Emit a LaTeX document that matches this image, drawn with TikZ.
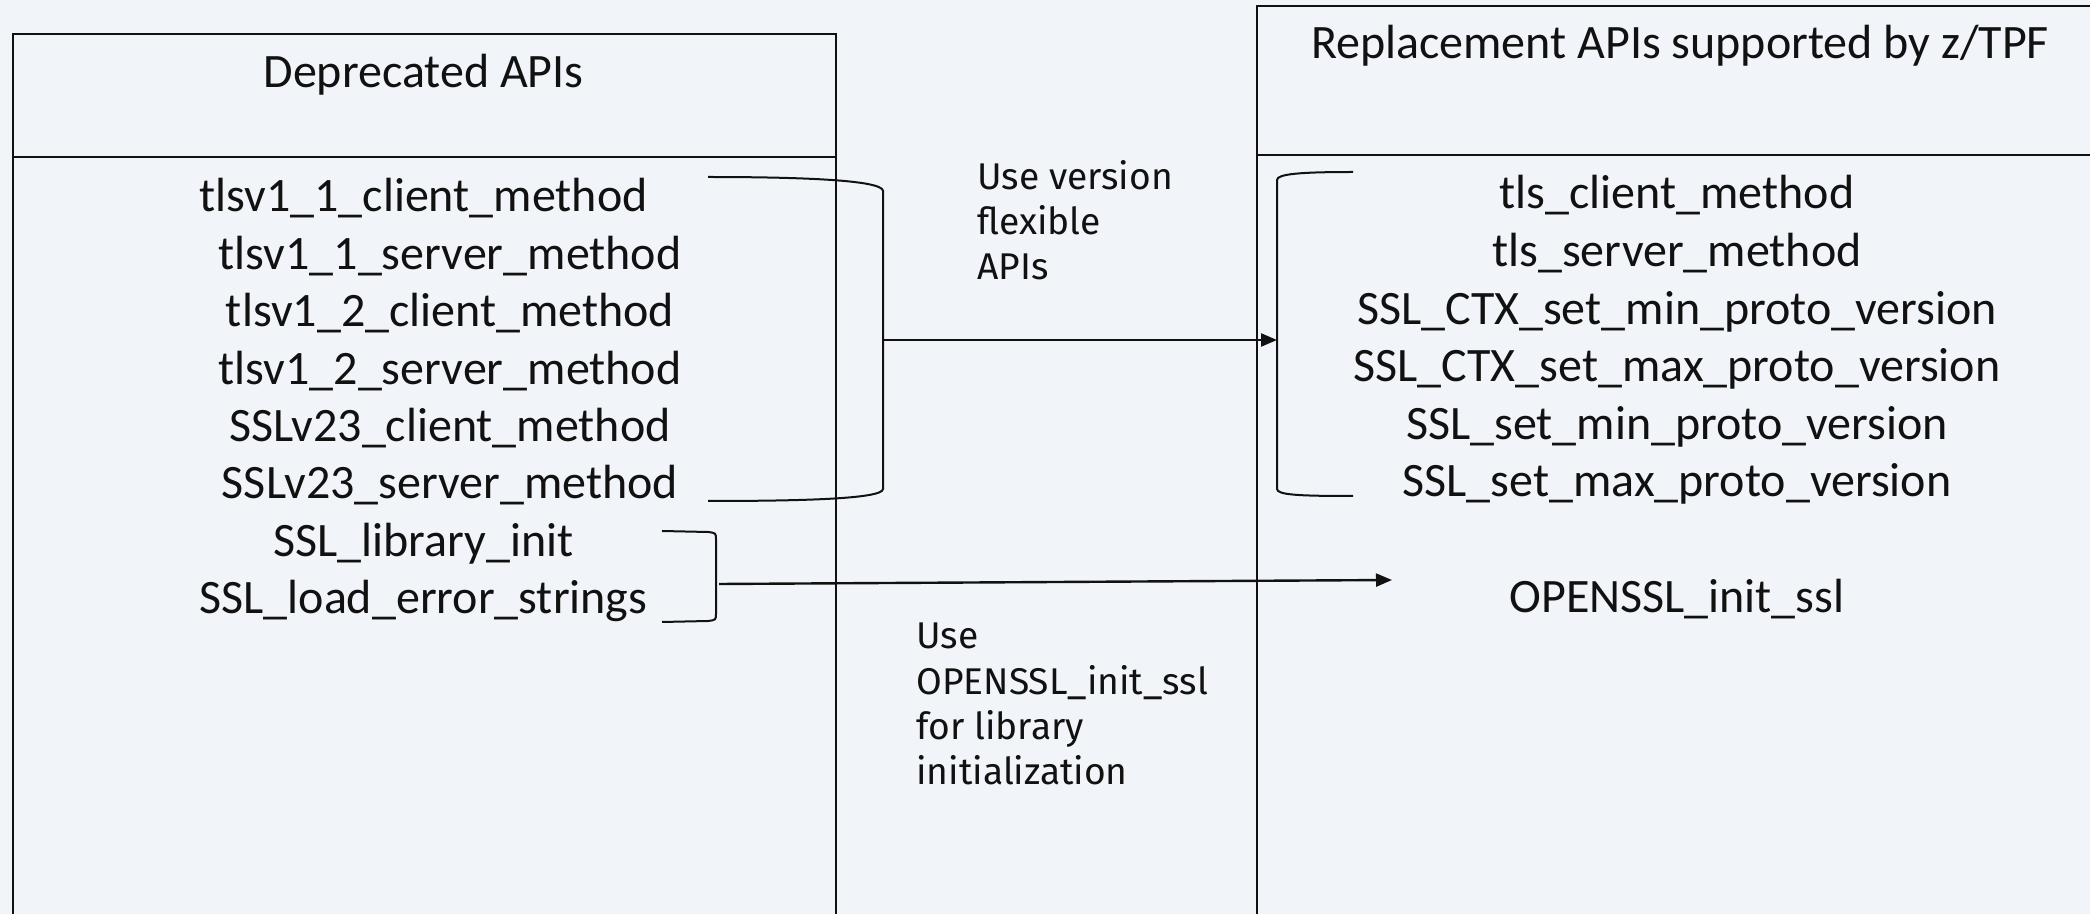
\documentclass[tikz,border=0pt]{standalone}
\usepackage{fontspec}
\setmainfont{Carlito}
\newfontfamily\labelfont{Fira Sans}
\usetikzlibrary{arrows.meta}
\definecolor{bg}{HTML}{F1F4F9}
\definecolor{ink}{HTML}{111111}
\begin{document}
\begin{tikzpicture}[x=0.5pt,y=-0.5pt,
  item/.style={anchor=base, inner sep=0pt, text=ink, font=\fontsize{24}{28}\selectfont},
  note/.style={anchor=base west, inner sep=0pt, text=ink, font=\labelfont\fontsize{18.6}{22}\selectfont},
  frame/.style={draw=ink, line width=1.2pt},
  brace/.style={draw=ink, line width=1pt},
  conn/.style={draw=ink, line width=1.2pt, -{Triangle[length=8pt,width=6.5pt]}}]
\path[use as bounding box, fill=bg] (0,0) rectangle (2090,914);
\clip (0,0) rectangle (2090,914);

% boxes
\node[frame, anchor=north west, inner sep=0pt, minimum width=411.75pt, minimum height=470pt] (deprecated) at (11.5,33) {};
\node[frame, anchor=north west, inner sep=0pt, minimum width=450pt, minimum height=480pt] (replacement) at (1256,5) {};
\draw[frame] (deprecated.north west |- 0,157) -- (deprecated.north east |- 0,157);
\draw[frame] (replacement.north west |- 0,155) -- (replacement.north east |- 0,155);

% titles
\node[item] (dtitle) at (423.5,88) {Deprecated APIs};
\node[item] (rtitle) at (1680,59) {Replacement APIs supported by z/TPF};

% left list
\node[item] (l1) at (423.5,212) {tlsv1\_1\_client\_method};
\node[item] (l2) at (450,269.4) {tlsv1\_1\_server\_method};
\node[item] (l3) at (450,326.8) {tlsv1\_2\_client\_method};
\node[item] (l4) at (450,384.2) {tlsv1\_2\_server\_method};
\node[item] (l5) at (450,441.6) {SSLv23\_client\_method};
\node[item] (l6) at (450,499) {SSLv23\_server\_method};
\node[item] (l7) at (423.5,556.4) {SSL\_library\_init};
\node[item] (l8) at (423.5,613.8) {SSL\_load\_error\_strings};

% right list
\node[item] (r1) at (1677,209) {tls\_client\_method};
\node[item] (r2) at (1677,266.6) {tls\_server\_method};
\node[item] (r3) at (1677,324.2) {SSL\_CTX\_set\_min\_proto\_version};
\node[item] (r4) at (1677,381.8) {SSL\_CTX\_set\_max\_proto\_version};
\node[item] (r5) at (1677,439.4) {SSL\_set\_min\_proto\_version};
\node[item] (r6) at (1677,497) {SSL\_set\_max\_proto\_version};
\node[item] (r7) at (1677,612) {OPENSSL\_init\_ssl};

% notes
\node[note] (n1a) at (977,190) {Use version};
\node[note] (n1b) at (977,235) {flexible};
\node[note] (n1c) at (977,280) {APIs};
\node[note] (n2a) at (916,648) {Use};
\node[note] (n2b) at (916,694) {OPENSSL\_init\_ssl};
\node[note] (n2c) at (916,740) {for library};
\node[note] (n2d) at (916,784) {initialization};

% brackets
\coordinate (bA) at (883,340);
\coordinate (bB) at (1277,340);
\coordinate (bC) at (719,584);
\coordinate (bD) at (1392,580);
\draw[brace] (708,177) .. controls (800,177) and (883,180) .. (883,191)
  -- (883,489) .. controls (883,499) and (800,501) .. (708,501);
\draw[brace] (1353,172) .. controls (1300,172) and (1277,174) .. (1277,180)
  -- (1277,489) .. controls (1277,495) and (1300,496) .. (1353,496);
\draw[brace] (662,531) -- (708,532) .. controls (716,533) .. (716,540)
  -- (716,613) .. controls (716,620) .. (708,621) -- (662,622);

% connectors
\draw[conn] (bA) -- (bB);
\draw[conn] (bC) -- (bD);
\end{tikzpicture}
\end{document}
